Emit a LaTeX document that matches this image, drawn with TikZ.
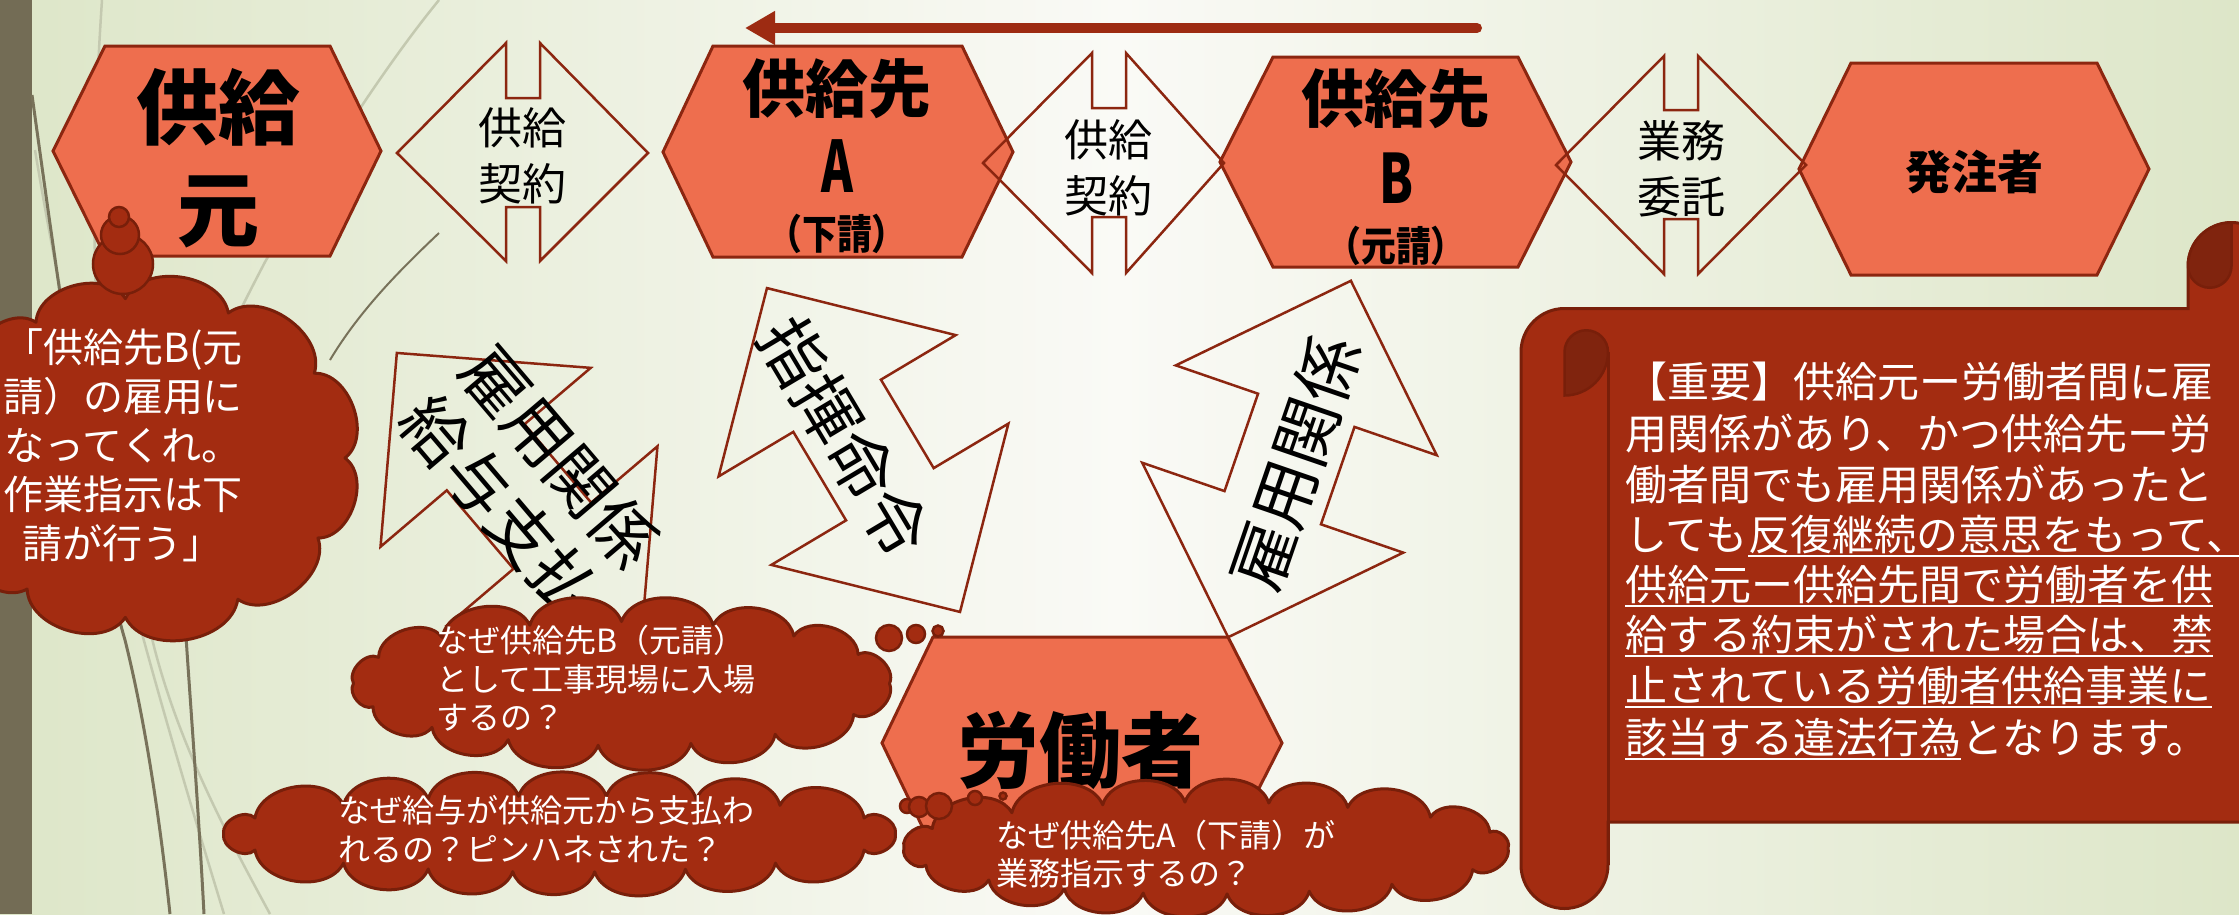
\documentclass[tikz,border=0pt]{standalone}
\usepackage{fontspec}
\newfontfamily\jp{Noto Sans CJK JP}
\usetikzlibrary{arrows.meta}

\definecolor{bgside}{RGB}{221,230,200}
\definecolor{bgmid}{RGB}{250,250,246}
\definecolor{barcol}{RGB}{115,108,85}
\definecolor{hexfill}{RGB}{238,110,78}
\definecolor{hexline}{RGB}{140,38,16}
\definecolor{cloudfill}{RGB}{163,44,17}
\definecolor{cloudline}{RGB}{120,31,10}
\definecolor{curlcol}{RGB}{128,36,14}
\definecolor{flowcol}{RGB}{157,43,18}
\definecolor{wispdark}{RGB}{120,114,90}
\definecolor{wisplight}{RGB}{196,201,176}

\tikzset{
  hexbox/.style={fill=hexfill, draw=hexline, line width=3pt},
  hexlabel/.style={font=\jp\bfseries\fontsize{#1}{#1}\selectfont, inner sep=0pt},
  twoway/.style={draw=hexline, line width=2.5pt},
  tilted/.style={draw=hexline, line width=2.5pt},
  arrowlabel/.style={font=\jp\fontsize{44}{56}\selectfont, align=center, inner sep=0pt},
  tiltlabel/.style={font=\jp\fontsize{66}{78}\selectfont, align=center, inner sep=0pt},
  puffline/.style={fill=cloudfill, draw=cloudline, line width=3pt, line join=round},
  bubble/.style={fill=cloudfill, draw=cloudline, line width=2.5pt},
  thought/.style={font=\jp\fontsize{32}{38.5}\selectfont, text=white, align=left, inner sep=0pt, anchor=west},
  scrollline/.style={font=\jp\fontsize{42}{50}\selectfont, text=white, inner sep=0pt, anchor=base west},
  rule/.style={draw=white, line width=2pt},
  flow/.style={draw=flowcol, line width=10pt, line cap=round, -{Triangle[length=30pt,width=32pt]}},
  wisp/.style={draw=wisplight, line width=2.5pt},
  wispd/.style={draw=wispdark, line width=3pt},
  scrollbody/.style={fill=cloudfill, draw=cloudline, line width=3pt},
  scrollcurl/.style={fill=curlcol, draw=cloudline, line width=2.5pt},
}

% left-right arrow: tipL tipR centreY stemL stemR top notchTop notchBottom bottom
\newcommand\twowayarrow[9]{%
  \draw[twoway] (#1,#3) -- (#4,#6) -- (#4,#7) -- (#5,#7) -- (#5,#6) -- (#2,#3)
    -- (#5,#9) -- (#5,#8) -- (#4,#8) -- (#4,#9) -- cycle;}

% up-down arrow centred at #1, turned by #2 degrees
\newcommand\tiltarrow[2]{%
  \begin{scope}[shift={#1}, rotate=#2, x=1pt, y=1pt]
    \draw[tilted] (0,188.5) -- (138,51.5) -- (51,51.5) -- (51,-51.5) -- (138,-51.5)
      -- (0,-188.5) -- (-138,-51.5) -- (-51,-51.5) -- (-51,51.5) -- (-138,51.5) -- cycle;
  \end{scope}}

% puffy cloud: centre x, centre y, x radius, y radius, angles (last = 360)
\newcommand\puffcloud[5]{%
  \begin{scope}[shift={(#1,#2)}]
    \filldraw[puffline] (0:#3 and #4) foreach \t in {#5} { to[bend left=72] (\t:#3 and #4) } -- cycle;
  \end{scope}}

\begin{document}
\begin{tikzpicture}[x=1pt, y=-1pt]
\useasboundingbox (0,0) rectangle (2239,914);

% backdrop
\shade[left color=bgside, right color=bgside, middle color=bgmid] (0,0) rectangle (2239,914);
\fill[barcol] (0,0) rectangle (32,914);

% thin decorative strands
\draw[wisp] (102,0) .. controls (90,180) and (92,330) .. (110,460);
\draw[wisp] (35,150) .. controls (80,420) and (140,640) .. (224,914);
\draw[wisp] (439,0) .. controls (390,60) and (330,150) .. (265,262) .. controls (240,310) and (225,340) .. (210,380);
\draw[wisp] (150,630) .. controls (175,740) and (230,840) .. (270,914);
\draw[wispd] (32,95) .. controls (55,260) and (90,520) .. (125,640) .. controls (145,720) and (160,820) .. (170,914);
\draw[wispd] (184,606) .. controls (190,700) and (198,800) .. (204,914);
\draw[wispd, line width=2pt] (439,233) .. controls (400,270) and (360,310) .. (330,360);

% direction of the supply chain
\coordinate (flowS) at (1477,28);
\coordinate (flowE) at (745,28);
\draw[flow] (flowS) -- (flowE);

% parties
\draw[hexbox] (105,46) -- (330,46) -- (381,151) -- (330,256) -- (105,256) -- (53,151) -- cycle;
\node[hexlabel=82] (srcA) at (218,107) {供給};
\node[hexlabel=82] (srcB) at (218,212) {元};

\draw[hexbox] (713,46) -- (962,46) -- (1013,152) -- (962,257) -- (713,257) -- (663,152) -- cycle;
\node[hexlabel=63] (subA) at (837,89) {供給先};
\node[hexlabel=71, xscale=0.68] (subB) at (837,166) {A};
\node[hexlabel=41, xscale=0.85] (subC) at (837,234) {（下請）};

\draw[hexbox] (1273,57) -- (1518,57) -- (1571,162) -- (1518,267) -- (1273,267) -- (1220,162) -- cycle;
\node[hexlabel=63] (mainA) at (1396,99) {供給先};
\node[hexlabel=68, xscale=0.72] (mainB) at (1396,178) {B};
\node[hexlabel=41, xscale=0.85] (mainC) at (1396,246) {（元請）};

\draw[hexbox] (1851,63) -- (2097,63) -- (2149,169) -- (2097,275) -- (1851,275) -- (1799,169) -- cycle;
\node[hexlabel=46] (client) at (1974,172) {発注者};

% contracts between the parties
\twowayarrow{397}{648}{153}{506}{540}{43}{98}{207}{261}
\node[arrowlabel] (deal1) at (522,156) {供給\\契約};
\twowayarrow{983}{1224}{163}{1092}{1126}{53}{108}{217}{273}
\node[arrowlabel] (deal2) at (1108,168) {供給\\契約};
\twowayarrow{1556}{1806}{165}{1664}{1698}{56}{110}{219}{274}
\node[arrowlabel] (deal3) at (1681,169) {業務\\委託};

% relations with the worker
\tiltarrow{(519,496.5)}{40.4}
\node[tiltlabel, rotate=-49.6] (payrel) at (530,482) {雇用関係\\給与支払};
\tiltarrow{(863.5,450)}{30.8}
\node[tiltlabel, rotate=-59.2] (order) at (845,437) {指揮命令};
\tiltarrow{(1289.5,459)}{-19}
\node[tiltlabel, rotate=71] (hire) at (1296,463) {雇用関係};

% worker
\draw[hexbox] (933,637) -- (1228,637) -- (1282,743) -- (1228,849) -- (933,849) -- (882,743) -- cycle;
\node[hexlabel=82] (worker) at (1080,750) {労働者};

% speech of the supplier
\puffcloud{143}{458}{202}{160}{30,62,95,125,155,185,212,238,265,295,328,360}
\draw[bubble] (123,264) circle[radius=30];
\draw[bubble] (120,235) circle[radius=19];
\draw[bubble] (119,217) circle[radius=10];
\node[font=\jp\fontsize{40}{49}\selectfont, text=white, align=center, inner sep=0pt] (askLtext) at (123,445)
  {「供給先B(元\\請）の雇用に\\なってくれ。\\作業指示は下\\請が行う」};

% worries of the worker
\puffcloud{621.5}{683.5}{268}{62}{30,55,75,95,115,135,158,180,205,228,250,270,290,310,332,360}
\draw[bubble] (889,638) circle[radius=13];
\draw[bubble] (916,634) circle[radius=9];
\draw[bubble] (938,631) circle[radius=5.5];
\node[thought] (q1text) at (436,678.5) {なぜ供給先B（元請）\\として工事現場に入場\\するの？};

\puffcloud{559.5}{834}{336}{38}{25,50,68,84,98,113,130,155,180,205,230,247,263,278,294,311,335,360}
\puffcloud{1206}{848}{302}{46}{28,52,70,86,102,118,136,158,180,205,230,250,266,282,298,318,340,360}
\draw[bubble] (907,806) circle[radius=7];
\draw[bubble] (919,807) circle[radius=10];
\draw[bubble] (939,806) circle[radius=13];
\draw[bubble] (975,798) circle[radius=7];
\draw[bubble] (1003,796) circle[radius=3.5];
\node[thought] (q2text) at (338,829) {なぜ給与が供給元から支払わ\\れるの？ピンハネされた？};
\node[thought] (q3text) at (996,854) {なぜ供給先A（下請）が\\業務指示するの？};

% scroll with the legal note
\filldraw[scrollbody]
  (1521,352) arc[start angle=180, end angle=270, radius=43.5]
  -- (2188,308.5) -- (2188,266) arc[start angle=180, end angle=360, radius=43.5]
  -- (2275,822) -- (1608,822) -- (1608,865) arc[start angle=0, end angle=180, radius=43.5] -- cycle;
\draw[cloudline, line width=3pt] (1608,352) -- (1608,865);
\filldraw[scrollcurl] (1564.5,395.5) -- (1564.5,352) arc[start angle=180, end angle=360, radius=21.75]
  arc[start angle=0, end angle=90, radius=43.5] -- cycle;
\filldraw[scrollcurl] (2188,266) arc[start angle=180, end angle=270, radius=43.5]
  -- (2231.5,266) arc[start angle=0, end angle=180, radius=21.75] -- cycle;

\node[scrollline] (s1) at (1625,397) {【重要】供給元ー労働者間に雇};
\node[scrollline] (s2) at (1625,449) {用関係があり、かつ供給先ー労};
\node[scrollline] (s3) at (1625,500) {働者間でも雇用関係があったと};
\node[scrollline] (s4a) at (1625,550) {しても};
\node[scrollline] (s4b) at (s4a.base east) {反復継続の意思をもって、};
\node[scrollline] (s5) at (1625,600) {供給元ー供給先間で労働者を供};
\node[scrollline] (s6) at (1625,650) {給する約束がされた場合は、禁};
\node[scrollline] (s7) at (1625,701) {止されている労働者供給事業に};
\node[scrollline] (s8a) at (1625,753) {該当する違法行為};
\node[scrollline] (s8b) at (s8a.base east) {となります。};

\draw[rule] ([yshift=-6pt]s4b.base west) -- ([yshift=-6pt]s4b.base east);
\draw[rule] ([yshift=-6pt]s5.base west) -- ([yshift=-6pt]s5.base east);
\draw[rule] ([yshift=-6pt]s6.base west) -- ([yshift=-6pt]s6.base east);
\draw[rule] ([yshift=-6pt]s7.base west) -- ([yshift=-6pt]s7.base east);
\draw[rule] ([yshift=-6pt]s8a.base west) -- ([yshift=-6pt]s8a.base east);
\end{tikzpicture}
\end{document}
